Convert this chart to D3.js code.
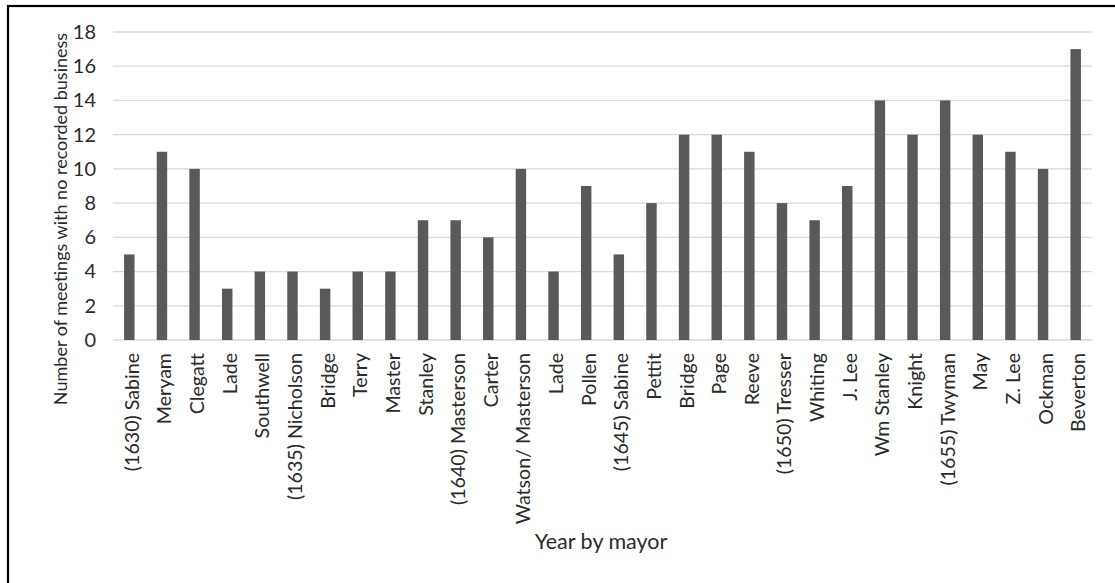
<!DOCTYPE html>
<html>
<head>
<meta charset="utf-8">
<script src="https://cdn.jsdelivr.net/npm/d3@7"></script>
<style>
  html, body { margin: 0; padding: 0; background: #fff; }
  svg text { font-family: Lato, "Open Sans", sans-serif; fill: #2b2b2b; }
</style>
</head>
<body>
<svg id="chart" width="1115" height="583"></svg>
<script>
// Meetings per mayoral year that recorded no business
const mayors = [
  "(1630) Sabine", "Meryam", "Clegatt", "Lade", "Southwell",
  "(1635) Nicholson", "Bridge", "Terry", "Master", "Stanley",
  "(1640) Masterson", "Carter", "Watson/ Masterson", "Lade", "Pollen",
  "(1645) Sabine", "Pettit", "Bridge", "Page", "Reeve",
  "(1650) Tresser", "Whiting", "J. Lee", "Wm Stanley", "Knight",
  "(1655) Twyman", "May", "Z. Lee", "Ockman", "Beverton"
];
const meetings = [
  5, 11, 10, 3, 4,
  4, 3, 4, 4, 7,
  7, 6, 10, 4, 9,
  5, 8, 12, 12, 11,
  8, 7, 9, 14, 12,
  14, 12, 11, 10, 17
];
const yTicks = [0, 2, 4, 6, 8, 10, 12, 14, 16, 18];
const yTitle = "Number of meetings with no recorded business";
const xTitle = "Year by mayor";

const svg = d3.select("#chart");
const W = 1115, H = 583;

// frame (left and top edges show)
svg.append("rect")
  .attr("x", 8).attr("y", 6)
  .attr("width", W + 20).attr("height", H + 20)
  .attr("fill", "none").attr("stroke", "#000").attr("stroke-width", 2.2);

const plot = { left: 113, right: 1092, top: 32, bottom: 340 };

// index-based band keys because some mayors appear twice
const x = d3.scaleBand()
  .domain(d3.range(mayors.length))
  .range([plot.left, plot.right])
  .paddingInner(0.68)
  .paddingOuter(0.34);

const y = d3.scaleLinear()
  .domain([0, 18])
  .range([plot.bottom, plot.top]);

// horizontal gridlines
svg.append("g")
  .selectAll("line")
  .data(yTicks)
  .join("line")
  .attr("x1", plot.left).attr("x2", plot.right)
  .attr("y1", d => y(d)).attr("y2", d => y(d))
  .attr("stroke", "#d9d9d9").attr("stroke-width", 1.3);

// y axis labels
const yAxis = d3.axisLeft(y).tickValues(yTicks).tickSize(0).tickPadding(17);
svg.append("g")
  .attr("transform", `translate(${plot.left},0)`)
  .call(yAxis)
  .call(g => g.select(".domain").remove())
  .selectAll("text")
  .attr("font-size", 20)
  .attr("font-family", null)
  .attr("fill", null);

// bars
svg.append("g")
  .selectAll("rect")
  .data(meetings)
  .join("rect")
  .attr("x", (d, i) => x(i))
  .attr("width", x.bandwidth())
  .attr("y", d => y(d))
  .attr("height", d => y(0) - y(d))
  .attr("fill", "#595959");

// category labels, rotated
const xAxis = d3.axisBottom(x).tickSize(0).tickPadding(0).tickFormat(i => mayors[i]);
svg.append("g")
  .attr("transform", `translate(0,${plot.bottom})`)
  .call(xAxis)
  .call(g => g.select(".domain").remove())
  .selectAll("text")
  .attr("font-size", 19.6)
  .attr("font-family", null)
  .attr("fill", null)
  .attr("text-anchor", "end")
  .attr("dy", null)
  .attr("transform", "translate(2,13) rotate(-90)")
  .attr("x", 0).attr("y", 0)
  .attr("dominant-baseline", "central");

// axis titles
svg.append("text")
  .attr("transform", "translate(60,219) rotate(-90)")
  .attr("text-anchor", "middle")
  .attr("dominant-baseline", "central")
  .attr("font-size", 18)
  .text(yTitle);

svg.append("text")
  .attr("x", 601).attr("y", 549)
  .attr("text-anchor", "middle")
  .attr("font-size", 21.5)
  .text(xTitle);
</script>
</body>
</html>
